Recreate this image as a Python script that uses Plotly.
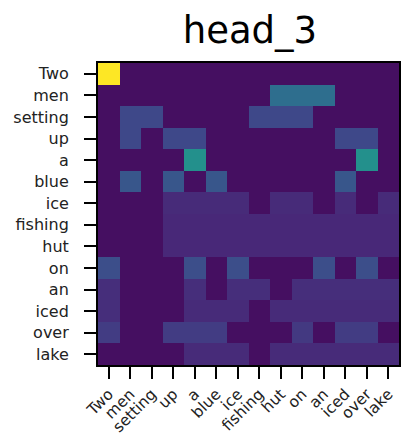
import plotly.graph_objects as go

# tokens of the sentence (rows = queries, cols = keys)
tokens = ["Two", "men", "setting", "up", "a", "blue", "ice", "fishing",
          "hut", "on", "an", "iced", "over", "lake"]

# attention weights, one list per row
b = 0.04  # background level
row_two     = [1.0, b, b, b, b, b, b, b, b, b, b, b, b, b]
row_men     = [b, b, b, b, b, b, b, b, 0.36, 0.36, 0.36, b, b, b]
row_setting = [b, 0.22, 0.22, b, b, b, b, 0.22, 0.22, 0.22, b, b, b, b]
row_up      = [b, 0.22, b, 0.22, 0.22, b, b, b, b, b, b, 0.22, 0.22, b]
row_a       = [b, b, b, b, 0.5, b, b, b, b, b, b, b, 0.5, b]
row_blue    = [b, 0.27, b, 0.27, b, 0.27, b, b, b, b, b, 0.27, b, b]
row_ice     = [b, b, b, 0.12, 0.12, 0.12, 0.12, b, 0.12, 0.12, b, 0.12, b, 0.12]
row_fishing = [b, b, b, 0.11, 0.11, 0.11, 0.11, 0.11, 0.11, 0.11, 0.11, 0.11, 0.11, 0.11]
row_hut     = [b, b, b, 0.11, 0.11, 0.11, 0.11, 0.11, 0.11, 0.11, 0.11, 0.11, 0.11, 0.11]
row_on      = [0.24, b, b, b, 0.24, b, 0.24, b, b, b, 0.24, b, 0.24, b]
row_an      = [0.13, b, b, b, 0.13, b, 0.13, 0.13, b, 0.13, 0.13, 0.13, 0.13, 0.13]
row_iced    = [0.13, b, b, b, 0.12, 0.12, 0.12, b, 0.12, 0.12, 0.12, 0.12, 0.12, 0.12]
row_over    = [0.18, b, b, 0.18, 0.18, 0.18, b, b, b, 0.17, b, 0.18, 0.18, b]
row_lake    = [b, b, b, b, 0.12, 0.12, 0.12, b, 0.12, 0.12, 0.12, 0.12, 0.12, 0.12]

z = [row_two, row_men, row_setting, row_up, row_a, row_blue, row_ice,
     row_fishing, row_hut, row_on, row_an, row_iced, row_over, row_lake]

fig = go.Figure(go.Heatmap(z=z, x=tokens, y=tokens, colorscale="Viridis",
                           zmin=0, zmax=1, showscale=False))

axis_style = dict(showline=True, mirror=True, linecolor="black", linewidth=2,
                  ticks="outside", ticklen=12, tickwidth=2, tickcolor="black",
                  showgrid=False, zeroline=False, automargin=False)

fig.update_xaxes(**axis_style, tickangle=-45, ticklabelstandoff=0,
                 tickfont=dict(family="DejaVu Sans", size=15.5, color="#222"))
fig.update_yaxes(**axis_style, autorange="reversed", ticklabelstandoff=12,
                 tickfont=dict(family="DejaVu Sans", size=16, color="#222"))

# the page puts the figure 8px in from the top-left corner
fig.update_layout(
    width=410, height=439,
    margin=dict(l=90, r=19, t=55, b=82),
    paper_bgcolor="white", plot_bgcolor="white",
    title=dict(text="head_3", x=0.59, xanchor="center", y=0.98, yanchor="top",
               font=dict(family="DejaVu Sans", size=37, color="black")),
)

fig.write_html("out.html")
